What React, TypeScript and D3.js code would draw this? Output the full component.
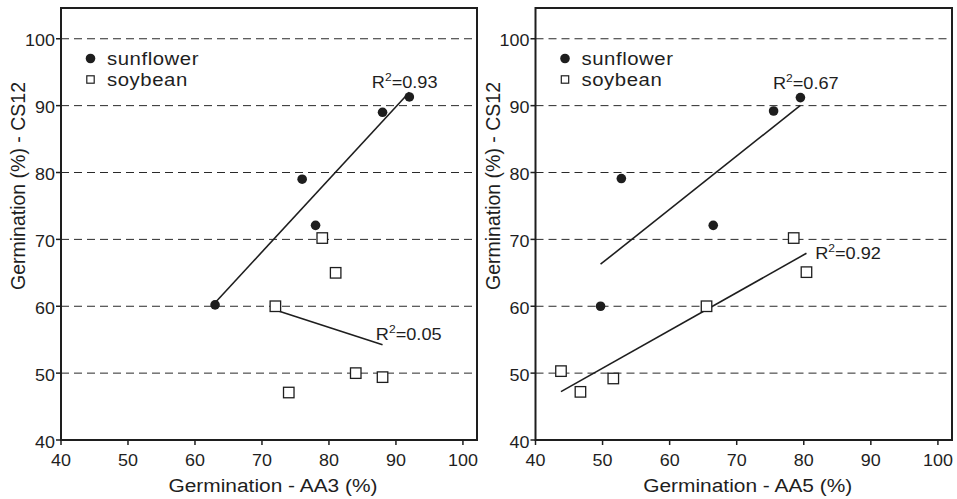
import React from "react";
import * as d3 from "d3";

// ---- data ----
const xTicks = [40, 50, 60, 70, 80, 90, 100];
const yTicks = [40, 50, 60, 70, 80, 90, 100];
const gridValues = [50, 60, 70, 80, 90, 100];

const aa3SunflowerX = [63, 76, 78, 88, 92];
const aa3SunflowerY = [60.2, 79, 72.1, 89, 91.3];
const aa3SoybeanX = [72, 74, 79, 81, 84, 88];
const aa3SoybeanY = [60, 47.1, 70.2, 65, 50, 49.4];

const aa5SunflowerX = [49.7, 52.8, 66.5, 75.5, 79.5];
const aa5SunflowerY = [60, 79.1, 72.1, 89.2, 91.2];
const aa5SoybeanX = [43.8, 46.7, 51.6, 65.5, 78.5, 80.4];
const aa5SoybeanY = [50.3, 47.2, 49.2, 60, 70.2, 65.1];

const r2Labels = ["0.93", "0.05", "0.67", "0.92"];
// label anchor positions in data units [x, y]
const r2Pos: [number, number][] = [
  [86.4, 92.6],
  [87.0, 55.0],
  [75.4, 92.5],
  [81.7, 67.1],
];

const xTitles = ["Germination - AA3 (%)", "Germination - AA5 (%)"];
const yTitle = "Germination (%) - CS12";
const legendLabels = ["sunflower", "soybean"];

// ---- layout ----
const W = 957;
const H = 499;
const TOP = 8;
const BOTTOM = 440;
const panels = [
  { left: 61, right: 477 },
  { left: 535.5, right: 952 },
];
const X_MAX = 102.1;
const Y_MAX = 104.6;
const FONT = "'Liberation Sans', Arial, Helvetica, sans-serif";
const INK = "#1e1e1e";
const SX = 1.1; // horizontal stretch of text

function fit(xs: number[], ys: number[]) {
  const mx = d3.mean(xs)!;
  const my = d3.mean(ys)!;
  let sxy = 0,
    sxx = 0;
  xs.forEach((x, i) => {
    sxy += (x - mx) * (ys[i] - my);
    sxx += (x - mx) * (x - mx);
  });
  const b = sxy / sxx;
  const a = my - b * mx;
  const [x0, x1] = d3.extent(xs) as [number, number];
  return [
    [x0, a + b * x0],
    [x1, a + b * x1],
  ] as [number, number][];
}

function SText(props: {
  x: number;
  y: number;
  anchor?: string;
  size: number;
  children: React.ReactNode;
  ls?: number;
}) {
  return (
    <text
      transform={`translate(${props.x},${props.y}) scale(${SX},1)`}
      textAnchor={props.anchor || "start"}
      fontSize={props.size}
      fontFamily={FONT}
      fill={INK}
      letterSpacing={props.ls || 0}
    >
      {props.children}
    </text>
  );
}

function Panel(props: {
  idx: number;
  sunX: number[];
  sunY: number[];
  soyX: number[];
  soyY: number[];
}) {
  const { idx, sunX, sunY, soyX, soyY } = props;
  const p = panels[idx];
  const x = d3.scaleLinear().domain([40, X_MAX]).range([p.left, p.right]);
  const y = d3.scaleLinear().domain([40, Y_MAX]).range([BOTTOM, TOP]);
  const line = d3
    .line<[number, number]>()
    .x((d) => x(d[0]))
    .y((d) => y(d[1]));
  const sunFit = fit(sunX, sunY);
  const soyFit = fit(soyX, soyY);
  const sq = 10.5;
  const r2a = r2Pos[idx * 2];
  const r2b = r2Pos[idx * 2 + 1];
  const r2Text = (pos: [number, number], lab: string, key: string) => (
    <text
      key={key}
      transform={`translate(${x(pos[0])},${y(pos[1])}) scale(${SX},1)`}
      fontSize={16.5}
      fontFamily={FONT}
      fill={INK}
    >
      <tspan>R</tspan>
      <tspan fontSize={11} dy={-7}>
        2
      </tspan>
      <tspan dy={7}>={lab}</tspan>
    </text>
  );
  return (
    <g>
      {/* gridlines */}
      {gridValues.map((v) => (
        <line
          key={"g" + v}
          x1={p.left}
          x2={p.right - 4}
          y1={y(v)}
          y2={y(v)}
          stroke="#2a2a2a"
          strokeWidth={1}
          strokeDasharray="8,5"
        />
      ))}
      {/* frame */}
      <rect
        x={p.left}
        y={TOP}
        width={p.right - p.left}
        height={BOTTOM - TOP}
        fill="none"
        stroke={INK}
        strokeWidth={2}
      />
      {/* ticks */}
      {yTicks.map((v) => (
        <g key={"yt" + v}>
          <line x1={p.left - 5} x2={p.left} y1={y(v)} y2={y(v)} stroke={INK} strokeWidth={1.5} />
          <SText x={p.left - 6} y={y(v) + 7.5} anchor="end" size={16.3}>
            {v}
          </SText>
        </g>
      ))}
      {xTicks.map((v) => (
        <g key={"xt" + v}>
          <line x1={x(v)} x2={x(v)} y1={BOTTOM} y2={BOTTOM + 5} stroke={INK} strokeWidth={1.5} />
          <SText x={x(v)} y={465.5} anchor="middle" size={16.3}>
            {v}
          </SText>
        </g>
      ))}
      {/* titles */}
      <SText x={(p.left + p.right) / 2 + 4} y={492} anchor="middle" size={19}>
        {xTitles[idx]}
      </SText>
      <text
        transform={`translate(${p.left - 36},${186}) rotate(-90)`}
        textAnchor="middle"
        fontSize={19.5}
        fontFamily={FONT}
        fill={INK}
      >
        {yTitle}
      </text>
      {/* fit lines */}
      <path d={line(sunFit)!} fill="none" stroke={INK} strokeWidth={1.6} />
      <path d={line(soyFit)!} fill="none" stroke={INK} strokeWidth={1.6} />
      {/* points */}
      {sunX.map((v, i) => (
        <circle key={"s" + i} cx={x(v)} cy={y(sunY[i])} r={4.8} fill={INK} />
      ))}
      {soyX.map((v, i) => (
        <rect
          key={"b" + i}
          x={x(v) - sq / 2}
          y={y(soyY[i]) - sq / 2}
          width={sq}
          height={sq}
          fill="white"
          stroke={INK}
          strokeWidth={1.3}
        />
      ))}
      {/* R2 labels */}
      {r2Text(r2a, r2Labels[idx * 2], "ra")}
      {r2Text(r2b, r2Labels[idx * 2 + 1], "rb")}
      {/* legend */}
      <circle cx={p.left + 29.5} cy={58.5} r={4.8} fill={INK} />
      <SText x={p.left + 46} y={65.3} size={18.5} ls={0.5}>
        {legendLabels[0]}
      </SText>
      <rect
        x={p.left + 29.5 - 3.7}
        y={79.5 - 3.7}
        width={7.4}
        height={7.4}
        fill="white"
        stroke={INK}
        strokeWidth={1.2}
      />
      <SText x={p.left + 46} y={85.5} size={18.5} ls={0.5}>
        {legendLabels[1]}
      </SText>
    </g>
  );
}

export default function App() {
  return (
    <svg
      width={W}
      height={H}
      style={{ position: "absolute", left: 0, top: 0, background: "white" }}
    >
      <rect width={W} height={H} fill="white" />
      <Panel idx={0} sunX={aa3SunflowerX} sunY={aa3SunflowerY} soyX={aa3SoybeanX} soyY={aa3SoybeanY} />
      <Panel idx={1} sunX={aa5SunflowerX} sunY={aa5SunflowerY} soyX={aa5SoybeanX} soyY={aa5SoybeanY} />
    </svg>
  );
}
